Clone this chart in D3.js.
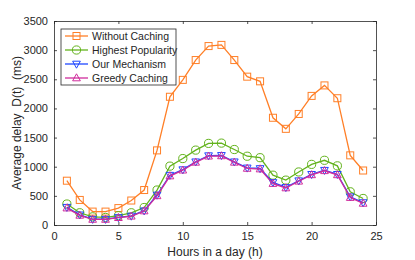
<!DOCTYPE html>
<html>
<head>
<meta charset="utf-8">
<script src="https://cdn.jsdelivr.net/npm/d3@7"></script>
<style>
  html, body { margin:0; padding:0; background:#fff; }
  svg { display:block; font-family:'Liberation Sans', Arial, sans-serif; }
</style>
</head>
<body>
<svg id="chart" width="415" height="260"></svg>
<script>
/* ---------- data ---------- */
const hours = d3.range(1, 25);
const withoutCaching = [760, 430, 230, 230, 290, 420, 600, 1280, 2200, 2490, 2830, 3070, 3090, 2830, 2545, 2465, 1840, 1650, 1905, 2215, 2395, 2175, 1195, 935];
const highestPopularity = [360, 210, 140, 130, 160, 210, 300, 600, 1010, 1140, 1285, 1400, 1405, 1295, 1180, 1155, 855, 770, 910, 1040, 1110, 1015, 570, 455];
const ourMechanism = [305, 175, 100, 100, 130, 155, 245, 515, 855, 950, 1085, 1190, 1195, 1085, 980, 970, 730, 645, 760, 870, 940, 870, 485, 385];
const greedyCaching = [290, 165, 95, 95, 125, 150, 240, 500, 840, 940, 1075, 1180, 1185, 1075, 970, 960, 710, 635, 750, 860, 930, 860, 470, 370];
const xTicks = [0, 5, 10, 15, 20, 25];
const yTicks = [0, 500, 1000, 1500, 2000, 2500, 3000, 3500];

const series = [
  { name:'Without Caching',    values:withoutCaching,    color:'#ff7f27', marker:'square' },
  { name:'Highest Popularity', values:highestPopularity, color:'#63b31c', marker:'circle' },
  { name:'Our Mechanism',      values:ourMechanism,      color:'#1f47ff', marker:'down' },
  { name:'Greedy Caching',     values:greedyCaching,     color:'#d02c9c', marker:'up' }
];

/* ---------- layout ---------- */
const svg = d3.select('#chart');
const margin = { top:21, right:39, bottom:35, left:54 };
const W = 415, H = 260;
const cw = W - margin.left - margin.right;
const ch = H - margin.top - margin.bottom;

const g = svg.append('g').attr('transform', `translate(${margin.left},${margin.top})`);
const x = d3.scaleLinear().domain([0, 25]).range([0, cw]);
const y = d3.scaleLinear().domain([0, 3500]).range([ch, 0]);

const axisColor = '#262626';
const tickLen = 3;
const fmt = d3.format('d');

// bottom + left axes with inward ticks
const xAxis = g.append('g').attr('transform', `translate(0,${ch})`)
  .call(d3.axisBottom(x).tickValues(xTicks).tickFormat(fmt).tickSizeInner(-tickLen).tickSizeOuter(0).tickPadding(7));
const yAxis = g.append('g')
  .call(d3.axisLeft(y).tickValues(yTicks).tickFormat(fmt).tickSizeInner(-tickLen).tickSizeOuter(0).tickPadding(6));
// top + right (box) with inward ticks, no labels
const xTop = g.append('g')
  .call(d3.axisTop(x).tickValues(xTicks).tickSizeInner(-tickLen).tickSizeOuter(0).tickFormat(''));
const yRight = g.append('g').attr('transform', `translate(${cw},0)`)
  .call(d3.axisRight(y).tickValues(yTicks).tickSizeInner(-tickLen).tickSizeOuter(0).tickFormat(''));

[xAxis, yAxis, xTop, yRight].forEach(a => {
  a.selectAll('path, line').style('stroke', axisColor).style('stroke-width', '0.8px');
  a.selectAll('text').style('fill', '#262626').style('font-size', '11px')
    .style('font-family', "'Liberation Sans', Arial, sans-serif");
});

// axis labels
g.append('text')
  .attr('x', cw/2).attr('y', ch + 31).attr('text-anchor', 'middle')
  .style('font-size', '12px').style('fill', '#262626')
  .text('Hours in a day (h)');
g.append('text')
  .attr('transform', 'rotate(-90)')
  .attr('x', -ch/2).attr('y', -33).attr('text-anchor', 'middle')
  .style('font-size', '12px').style('fill', '#262626')
  .style('white-space', 'pre').attr('xml:space', 'preserve')
  .text('Average delay  D(t)  (ms)');

/* ---------- markers ---------- */
function drawMarker(sel, type, color, s) {
  if (type === 'square') {
    sel.append('rect').attr('x', -s).attr('y', -s).attr('width', 2*s).attr('height', 2*s);
  } else if (type === 'circle') {
    sel.append('circle').attr('r', s + 0.6);
  } else if (type === 'down') {
    sel.append('path').attr('d', `M${-s*1.1},${-s*0.8}L${s*1.1},${-s*0.8}L0,${s*1.2}Z`);
  } else {
    sel.append('path').attr('d', `M${-s*1.1},${s*0.8}L${s*1.1},${s*0.8}L0,${-s*1.2}Z`);
  }
  sel.selectAll('*').style('fill', 'none').style('stroke', color).style('stroke-width', 1);
}

const line = d3.line().x((d, i) => x(hours[i])).y(d => y(d));

series.forEach(s => {
  g.append('path').datum(s.values)
    .attr('d', line)
    .style('fill', 'none').style('stroke', s.color).style('stroke-width', 1.3);
  const pts = g.selectAll(null).data(s.values).enter().append('g')
    .attr('transform', (d, i) => `translate(${x(hours[i])},${y(d)})`);
  pts.each(function() { drawMarker(d3.select(this), s.marker, s.color, 3.5); });
});

/* ---------- legend ---------- */
const legend = g.append('g').attr('transform', 'translate(7,8)');
legend.append('rect')
  .attr('width', 115).attr('height', 56)
  .style('fill', '#fff').style('stroke', axisColor).style('stroke-width', 0.8);
series.forEach((s, i) => {
  const row = legend.append('g').attr('transform', `translate(0,${7 + i*14})`);
  row.append('line').attr('x1', 4).attr('x2', 27).attr('y1', 0).attr('y2', 0)
    .style('stroke', s.color).style('stroke-width', 1.3);
  const m = row.append('g').attr('transform', 'translate(15.5,0)');
  drawMarker(m, s.marker, s.color, 3.5);
  row.append('text').attr('x', 31).attr('y', 0).attr('dy', '0.36em')
    .style('font-size', '10.5px').style('fill', '#262626')
    .text(s.name);
});
</script>
</body>
</html>
